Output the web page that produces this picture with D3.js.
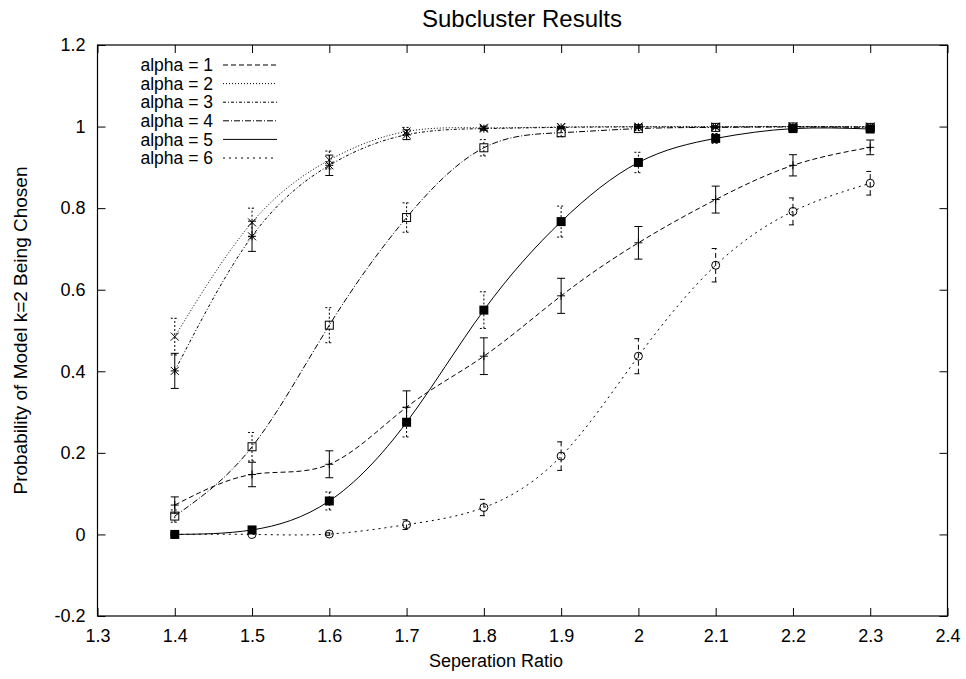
<!DOCTYPE html>
<html>
<head>
<meta charset="utf-8">
<script src="https://cdn.jsdelivr.net/npm/d3@7"></script>
<style>
  html, body { margin: 0; padding: 0; background: #fff; }
  svg { display: block; font-family: "Liberation Sans", Arial, Helvetica, sans-serif; }
</style>
</head>
<body>
<svg id="chart" width="966" height="679"></svg>
<script>
// ---------------- data ----------------
const ratios = [1.4, 1.5, 1.6, 1.7, 1.8, 1.9, 2.0, 2.1, 2.2, 2.3];

const seriesNames = ["alpha = 1", "alpha = 2", "alpha = 3", "alpha = 4", "alpha = 5", "alpha = 6"];

const alpha1 = [0.072, 0.147, 0.172, 0.312, 0.437, 0.585, 0.715, 0.821, 0.905, 0.949];
const alpha2 = [0.485, 0.765, 0.918, 0.988, 0.997, 0.999, 1.000, 1.000, 1.000, 1.000];
const alpha3 = [0.401, 0.731, 0.905, 0.980, 0.995, 0.998, 0.999, 0.999, 1.000, 0.999];
const alpha4 = [0.045, 0.215, 0.513, 0.777, 0.948, 0.985, 0.995, 0.998, 0.999, 0.998];
const alpha5 = [0.000, 0.011, 0.082, 0.275, 0.550, 0.767, 0.912, 0.971, 0.995, 0.994];
const alpha6 = [0.000, 0.000, 0.001, 0.024, 0.066, 0.192, 0.437, 0.660, 0.792, 0.861];

const err1 = [0.020, 0.030, 0.033, 0.040, 0.045, 0.043, 0.040, 0.033, 0.026, 0.018];
const err2 = [0.045, 0.035, 0.022, 0.010, 0.004, 0.002, 0.002, 0.002, 0.002, 0.002];
const err3 = [0.043, 0.037, 0.025, 0.012, 0.004, 0.002, 0.002, 0.002, 0.002, 0.002];
const err4 = [0.015, 0.035, 0.043, 0.036, 0.020, 0.010, 0.005, 0.003, 0.002, 0.002];
const err5 = [0.000, 0.005, 0.022, 0.036, 0.045, 0.038, 0.025, 0.012, 0.005, 0.005];
const err6 = [0.000, 0.000, 0.003, 0.012, 0.020, 0.035, 0.043, 0.041, 0.033, 0.029];

const xTickValues = [1.3, 1.4, 1.5, 1.6, 1.7, 1.8, 1.9, 2.0, 2.1, 2.2, 2.3, 2.4];
const xTickLabels = ["1.3", "1.4", "1.5", "1.6", "1.7", "1.8", "1.9", "2", "2.1", "2.2", "2.3", "2.4"];
const yTickValues = [-0.2, 0, 0.2, 0.4, 0.6, 0.8, 1.0, 1.2];
const yTickLabels = ["-0.2", "0", "0.2", "0.4", "0.6", "0.8", "1", "1.2"];

const titleText = "Subcluster Results";
const xLabelText = "Seperation Ratio";
const yLabelText = "Probability of Model k=2 Being Chosen";

// ---------------- styles ----------------
const lineDash = ["5,3", "1,2", "3,2,1,2", "6,2,1,2", null, "2,4"];
const barDash = [null, "2,2", null, "2,2", "2,2", "5,3"];
const markerTypes = ["plus", "cross", "star", "square", "filledSquare", "circle"];

const values = [alpha1, alpha2, alpha3, alpha4, alpha5, alpha6];
const errors = [err1, err2, err3, err4, err5, err6];

const series = seriesNames.map((name, i) => ({
  name,
  dash: lineDash[i],
  barDash: barDash[i],
  marker: markerTypes[i],
  points: ratios.map((r, j) => ({ x: r, y: values[i][j], e: errors[i][j] }))
}));

// ---------------- layout ----------------
const W = 966, H = 679;
const plot = { left: 97.5, right: 947.5, top: 45, bottom: 616 };
const TICK_FONT = 18;

const svg = d3.select("#chart");
svg.append("rect").attr("width", W).attr("height", H).attr("fill", "#fff");

const x = d3.scaleLinear().domain([1.3, 2.4]).range([plot.left, plot.right]);
const y = d3.scaleLinear().domain([-0.2, 1.2]).range([plot.bottom, plot.top]);

const fmtX = d => xTickLabels[xTickValues.findIndex(v => Math.abs(v - d) < 1e-9)];
const fmtY = d => yTickLabels[yTickValues.findIndex(v => Math.abs(v - d) < 1e-9)];

function styleAxis(g) {
  g.select(".domain").remove();
  g.selectAll(".tick line").attr("stroke", "#000").attr("stroke-width", 1);
  g.selectAll(".tick text").attr("fill", "#000").style("font-size", TICK_FONT + "px")
    .style("font-family", '"Liberation Sans", Arial, Helvetica, sans-serif');
}

svg.append("g").attr("transform", `translate(0,${plot.bottom})`)
  .call(d3.axisBottom(x).tickValues(xTickValues).tickFormat(fmtX).tickSize(-8).tickPadding(13))
  .call(styleAxis);
svg.append("g").attr("transform", `translate(0,${plot.top})`)
  .call(d3.axisTop(x).tickValues(xTickValues).tickFormat("").tickSize(-8))
  .call(styleAxis);
svg.append("g").attr("transform", `translate(${plot.left},0)`)
  .call(d3.axisLeft(y).tickValues(yTickValues).tickFormat(fmtY).tickSize(-8).tickPadding(12))
  .call(styleAxis);
svg.append("g").attr("transform", `translate(${plot.right},0)`)
  .call(d3.axisRight(y).tickValues(yTickValues).tickFormat("").tickSize(-8))
  .call(styleAxis);

svg.append("rect")
  .attr("x", plot.left).attr("y", plot.top)
  .attr("width", plot.right - plot.left).attr("height", plot.bottom - plot.top)
  .attr("fill", "none").attr("stroke", "#000").attr("stroke-width", 1.2);

// titles
svg.append("text").attr("x", 522).attr("y", 27).attr("text-anchor", "middle")
  .style("font-size", "24px").text(titleText);
svg.append("text").attr("x", 496).attr("y", 667).attr("text-anchor", "middle")
  .style("font-size", "18px").text(xLabelText);
svg.append("text").attr("transform", `translate(27,${(plot.top + plot.bottom) / 2}) rotate(-90)`)
  .attr("text-anchor", "middle").style("font-size", "19px").text(yLabelText);

// ---------------- curves ----------------
const line = d3.line().x(d => x(d.x)).y(d => y(d.y)).curve(d3.curveNatural);
const plotG = svg.append("g");

series.forEach(s => {
  plotG.append("path").datum(s.points)
    .attr("d", line)
    .attr("fill", "none").attr("stroke", "#000").attr("stroke-width", 1)
    .attr("stroke-dasharray", s.dash);
});

// error bars + markers
const cap = 4, ms = 4;
series.forEach(s => {
  const g = plotG.append("g");
  s.points.forEach(p => {
    const cx = x(p.x), cy = y(p.y);
    if (p.e > 0) {
      const y0 = y(p.y - p.e), y1 = y(p.y + p.e);
      const pathD = `M${cx},${y0}V${y1}M${cx - cap},${y0}H${cx + cap}M${cx - cap},${y1}H${cx + cap}`;
      g.append("path").attr("d", pathD).attr("fill", "none").attr("stroke", "#000")
        .attr("stroke-width", 1).attr("stroke-dasharray", s.barDash);
    }
    let d = "";
    switch (s.marker) {
      case "plus":
        d = `M${cx - ms},${cy}H${cx + ms}M${cx},${cy - ms}V${cy + ms}`;
        g.append("path").attr("d", d).attr("stroke", "#000").attr("fill", "none");
        break;
      case "cross":
        d = `M${cx - ms},${cy - ms}L${cx + ms},${cy + ms}M${cx - ms},${cy + ms}L${cx + ms},${cy - ms}`;
        g.append("path").attr("d", d).attr("stroke", "#000").attr("fill", "none");
        break;
      case "star":
        d = `M${cx - ms},${cy}H${cx + ms}M${cx},${cy - ms}V${cy + ms}` +
            `M${cx - ms},${cy - ms}L${cx + ms},${cy + ms}M${cx - ms},${cy + ms}L${cx + ms},${cy - ms}`;
        g.append("path").attr("d", d).attr("stroke", "#000").attr("fill", "none");
        break;
      case "square":
        g.append("rect").attr("x", cx - ms).attr("y", cy - ms).attr("width", 2 * ms).attr("height", 2 * ms)
          .attr("fill", "none").attr("stroke", "#000");
        break;
      case "filledSquare":
        g.append("rect").attr("x", cx - ms - 0.5).attr("y", cy - ms - 0.5).attr("width", 2 * ms + 1).attr("height", 2 * ms + 1)
          .attr("fill", "#000").attr("stroke", "none");
        break;
      case "circle":
        g.append("circle").attr("cx", cx).attr("cy", cy).attr("r", ms)
          .attr("fill", "none").attr("stroke", "#000");
        break;
    }
  });
});

// ---------------- legend ----------------
const legend = svg.append("g");
series.forEach((s, i) => {
  const ly = 65 + i * 18.6;
  legend.append("text").attr("x", 213).attr("y", ly).attr("dy", "0.35em")
    .attr("text-anchor", "end").style("font-size", "17.5px").text(s.name);
  legend.append("line").attr("x1", 223).attr("x2", 277).attr("y1", ly).attr("y2", ly)
    .attr("stroke", "#000").attr("stroke-width", 1).attr("stroke-dasharray", s.dash);
});
</script>
</body>
</html>
